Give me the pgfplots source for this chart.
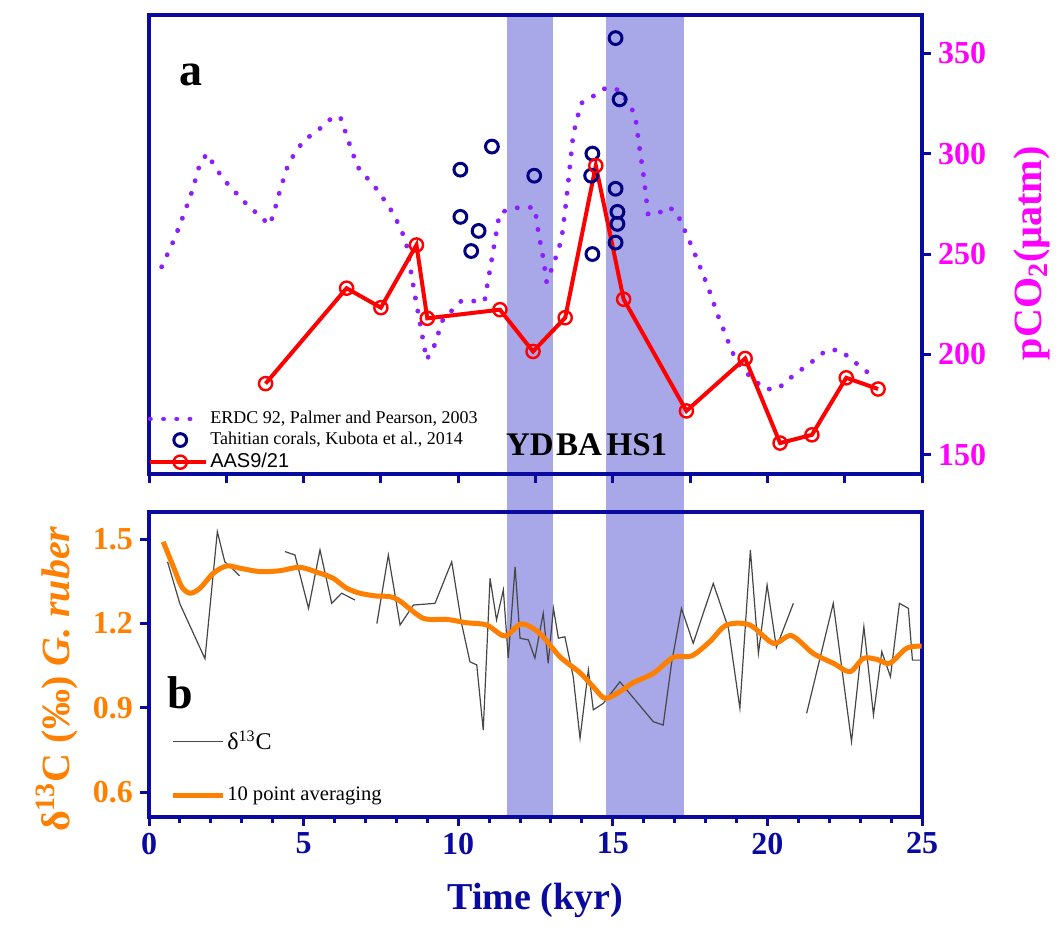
\documentclass[border=0pt]{standalone}
\usepackage{fontspec}
\setmainfont{Liberation Serif}
\newfontfamily\arialfont{Liberation Sans}
\usepackage{pgfplots}
\pgfplotsset{compat=1.18}

\definecolor{axblue}{RGB}{10,10,160}
\definecolor{bandc}{RGB}{168,168,232}
\definecolor{erdc}{RGB}{140,30,255}
\definecolor{coral}{RGB}{0,0,128}
\definecolor{orng}{RGB}{255,128,0}
\definecolor{magn}{RGB}{255,0,255}
\definecolor{rawc}{RGB}{70,70,70}

\pgfplotsset{
  panel/.style={
    scale only axis, width=386.5pt, xmin=0, xmax=25,
    axis line style={axblue, line width=2pt},
    tick style={axblue, line width=1.5pt},
    tick align=outside,
    major tick length=4.5pt, minor tick length=3pt,
    /pgf/number format/assume math mode=true,
    ticklabel style={font=\fontsize{16}{16}\selectfont\bfseries},
  },
  legline/.style={legend image code/.code={\draw[##1] (0pt,0pt) -- (22pt,0pt);}},
  leglinelong/.style={legend image code/.code={\draw[##1] (0pt,0pt) -- (25pt,0pt);}},
  legmark/.style={legend image code/.code={\draw[##1] plot coordinates {(15pt,0pt)};}},
  leglinemark/.style={legend image code/.code={\draw[##1, mark repeat=2, mark phase=2]
    plot coordinates {(0pt,0pt) (15pt,0pt) (28pt,0pt)};}},
}

\begin{document}
\begin{tikzpicture}
\useasboundingbox (0pt,0pt) rectangle (530pt,-465pt);

% shaded intervals (YD, HS1) across both panels
\begin{axis}[scale only axis, width=386.5pt, height=400.85pt,
  at={(74.5pt,-7.5pt)}, anchor=north west,
  xmin=0, xmax=25, ymin=0, ymax=1, hide axis]
\addplot[fill=bandc, draw=none] coordinates {(11.59,0) (13.08,0) (13.08,1) (11.59,1)};
\addplot[fill=bandc, draw=none] coordinates {(14.77,0) (17.29,0) (17.29,1) (14.77,1)};
\end{axis}

% panel a
\begin{axis}[panel,
  at={(74.5pt,-7.5pt)}, anchor=north west, height=229.5pt,
  ymin=140.5, ymax=369,
  xtick={0,2.5,...,25}, xticklabels={}, xtick pos=bottom,
  ytick={150,200,250,300,350}, ytick pos=right, yticklabel pos=right,
  yticklabel style={magn},
  ylabel={pCO\textsubscript{2}(µatm)},
  ylabel style={at={(axis description cs:1.142,0.481)}, anchor=center,
    font=\fontsize{20}{20}\selectfont\bfseries, magn},
  legend style={at={(axis description cs:-0.002,0.142)}, anchor=north west,
    draw=none, fill=none, inner sep=0pt, row sep=0.8pt,
    nodes={inner sep=1pt}},
  legend cell align=left,
]
\addplot[erdc, line width=2.4pt, line cap=round, dash pattern=on 0.1pt off 6.5pt, legline]
  coordinates {(0.41,243.6) (0.79,256.4) (1.11,269) (1.39,281) (1.63,294) (1.87,300)
  (2.39,287.5) (3.08,276) (3.5,270) (3.9,264.5) (4.04,270.5) (4.25,282.5) (4.52,295.5)
  (5.0,306.5) (5.46,311.5) (5.88,317.3) (6.18,318.5) (6.47,305.5) (6.74,293.5)
  (7.41,281.5) (7.93,269.5) (8.31,256.4) (8.58,231.2) (8.98,197.3) (9.23,204.5)
  (9.5,217.2) (10.1,226.7) (10.85,226.5) (11.07,246) (11.34,270.5) (11.72,272.5)
  (12.1,273.5) (12.48,273) (12.59,261) (12.75,247.9) (12.86,236) (13.07,244.4)
  (13.34,257) (13.5,277) (13.61,293.3) (13.72,309.5) (13.97,325) (14.41,329)
  (14.8,333) (15.24,331.5) (15.72,319.5) (15.83,306.5) (16.0,288.5) (16.14,270)
  (16.4,269.5) (16.8,273.5) (17.08,270.5) (17.24,264.5) (17.44,258) (17.78,245.3)
  (18.1,232.7) (18.37,220.7) (18.71,207.2) (19.0,196.3) (19.46,188.7) (19.92,182.8)
  (20.33,182.8) (20.71,187.9) (21.11,192.6) (21.54,197.5) (21.91,202.2) (22.35,202.2)
  (22.75,197.1) (23.16,192.1) (23.5,188)};
\addlegendentry{\fontsize{9}{10}\selectfont ERDC 92, Palmer and Pearson, 2003}

\addplot[coral, only marks, mark=o, mark size=3.2pt,
  mark options={line width=1.5pt, fill=white}, legmark]
  coordinates {(10.07,292) (11.09,303.5) (10.07,268.5) (10.66,261.5) (10.42,251.5)
  (12.46,289) (15.09,357.5) (15.22,327) (14.34,300) (14.3,289) (15.09,282.5)
  (15.15,271) (15.15,265) (15.09,255.7) (14.34,250)};
\addlegendentry{\fontsize{9}{10}\selectfont Tahitian corals, Kubota et al., 2014}

\addplot[red, line width=2pt, mark=o, mark size=3.3pt,
  mark options={line width=1.2pt, fill=white}, leglinemark]
  coordinates {(3.77,185.5) (6.39,233) (7.5,223.3) (8.65,254.5) (9.0,218)
  (11.35,222.3) (12.42,201.5) (13.46,218.3) (14.45,294) (15.35,227.5)
  (17.38,171.9) (19.28,198) (20.41,155.9) (21.44,160) (22.55,188.4) (23.58,182.8)};
\addlegendentry{\arialfont\fontsize{10}{11}\selectfont AAS9/21}

\node[font=\fontsize{23}{23}\selectfont\bfseries] at (axis cs:1.36,339) {a};
\node[font=\fontsize{16.5}{16.5}\selectfont\bfseries] at (axis cs:12.32,155) {YD};
\node[font=\fontsize{16.5}{16.5}\selectfont\bfseries] at (axis cs:13.91,155) {BA};
\node[font=\fontsize{16.5}{16.5}\selectfont\bfseries] at (axis cs:15.78,155) {HS1};
\end{axis}

% panel b
\begin{axis}[panel,
  at={(74.5pt,-255.85pt)}, anchor=north west, height=152.5pt,
  ymin=0.513, ymax=1.598,
  xtick={0,5,...,25}, minor x tick num=4, xtick pos=bottom,
  xticklabel style={axblue},
  ytick={0.6,0.9,1.2,1.5}, ytick pos=left,
  yticklabel style={orng, /pgf/number format/.cd, fixed, fixed zerofill, precision=1},
  xlabel={Time (kyr)},
  xlabel style={at={(axis description cs:0.5,-0.273)}, anchor=center,
    font=\fontsize{19}{19}\selectfont\bfseries, axblue},
  ylabel={δ\textsuperscript{13}C (‰) \textit{G. ruber}},
  ylabel style={at={(axis description cs:-0.119,0.451)}, anchor=center,
    font=\fontsize{20}{20}\selectfont\bfseries, orng},
  unbounded coords=jump,
  legend style={at={(axis description cs:0.027,0.29)}, anchor=north west,
    draw=none, fill=none, inner sep=0pt, row sep=15pt,
    nodes={inner sep=1pt}},
  legend cell align=left,
]
\addplot[rawc, line width=0.6pt, leglinelong]
  coordinates {(0.6,1.42) (1.0,1.27) (1.81,1.075) (2.21,1.527) (2.45,1.42) (2.65,1.40)
  (2.93,1.37) (3.5,nan)
  (4.4,1.456) (4.72,1.444) (5.16,1.254) (5.53,1.462) (5.91,1.272) (6.23,1.308)
  (6.66,1.284) (7.0,nan)
  (7.37,1.20) (7.74,1.444) (8.12,1.195) (8.55,1.266) (9.25,1.272) (9.79,1.42)
  (10.11,1.20) (10.38,1.064) (10.6,1.053) (10.81,0.821) (11.03,1.361) (11.24,1.213)
  (11.46,1.32) (11.62,1.077) (11.84,1.402) (12.0,1.148) (12.27,1.142) (12.48,1.077)
  (12.75,1.237) (12.91,1.059) (13.08,1.254) (13.24,1.148) (13.45,1.153) (13.72,1.011)
  (13.94,0.792) (14.21,1.035) (14.37,0.893) (14.69,0.916) (15.23,0.993) (15.77,0.922)
  (16.31,0.851) (16.63,0.839) (16.9,1.059) (17.22,1.254) (17.6,1.13) (18.25,1.343)
  (18.74,1.183) (19.11,0.899) (19.45,1.462) (19.71,1.094) (19.99,1.337) (20.29,1.115)
  (20.84,1.272) (21.0,nan)
  (21.27,0.881) (22.13,1.272) (22.72,0.78) (23.12,1.189) (23.43,0.875) (23.7,1.10)
  (23.98,1.011) (24.27,1.272) (24.56,1.254) (24.69,1.07) (24.93,1.07)};
\addlegendentry{\fontsize{12}{12}\selectfont δ\textsuperscript{13}C}

\addplot[orng, line width=2.5pt, smooth, leglinelong]
  coordinates {(0.46,1.491) (0.79,1.402) (1.06,1.331) (1.33,1.308) (1.65,1.326)
  (2.08,1.379) (2.51,1.405) (2.94,1.397) (3.59,1.385) (4.23,1.388) (4.88,1.40)
  (5.53,1.379) (5.96,1.361) (6.39,1.326) (6.82,1.308) (7.36,1.298) (7.79,1.296)
  (8.12,1.28) (8.87,1.219) (9.63,1.215) (10.27,1.203) (10.92,1.195) (11.51,1.156)
  (12.05,1.199) (12.64,1.165) (13.29,1.082) (13.94,1.025) (14.37,0.975) (14.75,0.934)
  (15.23,0.958) (15.66,0.99) (16.31,1.023) (16.96,1.08) (17.55,1.085) (18.14,1.136)
  (18.68,1.195) (19.43,1.195) (20.19,1.13) (20.78,1.157) (21.48,1.094) (22.13,1.059)
  (22.67,1.029) (23.1,1.076) (23.53,1.073) (23.96,1.059) (24.5,1.112) (24.99,1.12)};
\addlegendentry{\fontsize{10.3}{11}\selectfont 10 point averaging}

\node[font=\fontsize{23}{23}\selectfont\bfseries] at (axis cs:1.0,0.953) {b};
\end{axis}
\end{tikzpicture}
\end{document}
